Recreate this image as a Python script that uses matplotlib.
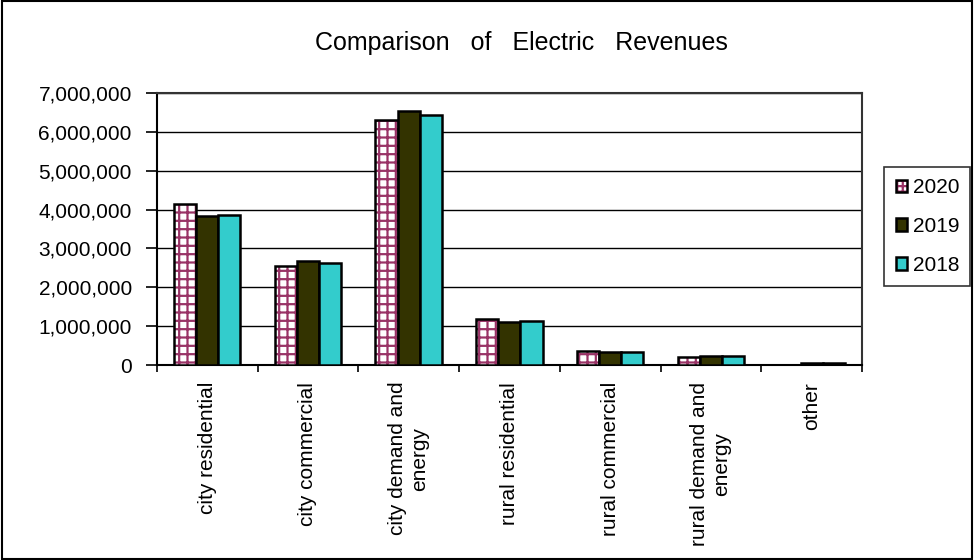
import matplotlib.pyplot as plt
import matplotlib.ticker as mticker
from matplotlib.patches import Patch
from matplotlib.legend_handler import HandlerTuple
import numpy as np

plt.rcParams['font.family'] = ['Liberation Sans', 'DejaVu Sans']
plt.rcParams['hatch.linewidth'] = 1.6

categories = ["city residential", "city commercial", "city demand and\nenergy",
              "rural residential", "rural commercial", "rural demand and\nenergy", "other"]
years = ["2020", "2019", "2018"]
rev_2020 = [4150000, 2560000, 6300000, 1180000, 360000, 200000, 0]
rev_2019 = [3830000, 2670000, 6540000, 1110000, 350000, 230000, 50000]
rev_2018 = [3860000, 2620000, 6430000, 1140000, 350000, 230000, 50000]

fig = plt.figure(figsize=(9.74, 5.6), dpi=100)
ax = fig.add_axes([0.161, 0.348, 0.724, 0.486])

x = np.arange(len(categories))
w = 0.22
ax.bar(x - w, rev_2020, w, color='white', edgecolor='#993366', hatch='++', lw=0, zorder=3)
ax.bar(x - w, rev_2020, w, color='none', edgecolor='black', lw=1.8, zorder=4, label='2020')
ax.bar(x, rev_2019, w, color='#333300', edgecolor='black', lw=1.8, zorder=4, label='2019')
ax.bar(x + w, rev_2018, w, color='#33CCCC', edgecolor='black', lw=1.8, zorder=4, label='2018')

ax.set_xlim(-0.5, len(categories) - 0.5)
ax.set_ylim(0, 7000000)
ax.yaxis.set_major_locator(mticker.MultipleLocator(1000000))
ax.yaxis.set_major_formatter(mticker.FuncFormatter(lambda v, p: f"{int(v):,}"))
ax.grid(axis='y', color='black', lw=1, zorder=1)

# category boundaries as ticks, names centred under each group
ax.set_xticks(np.arange(len(categories) + 1) - 0.5)
ax.set_xticklabels([])
ax.set_xticks(x, minor=True)
ax.set_xticklabels(categories, minor=True, rotation=90, fontsize=15,
                   va='top', ha='center', multialignment='center')
ax.tick_params(axis='x', which='minor', length=0, pad=12)
ax.tick_params(axis='x', which='major', length=5, width=1.2)
ax.tick_params(axis='y', length=8, width=1.2, labelsize=15, pad=10)
for s in ax.spines.values():
    s.set_linewidth(1.5)
    s.set_color('#333333')
ax.spines['left'].set_color('black')
ax.spines['bottom'].set_color('black')

fig.text(0.535, 0.923, "Comparison   of   Electric   Revenues", fontsize=18,
         ha='center', va='center')

handles, labels = ax.get_legend_handles_labels()
h2020 = Patch(facecolor='white', edgecolor='#993366', hatch='+++', lw=0)
leg = fig.legend([(h2020, handles[0]), handles[1], handles[2]], years,
                 handler_map={tuple: HandlerTuple(ndivide=1)},
                 loc='upper left', bbox_to_anchor=(0.908, 0.702), fontsize=15,
                 frameon=True, fancybox=False, edgecolor='black', handlelength=0.55,
                 handleheight=0.55, handletextpad=0.25, labelspacing=0.95,
                 borderpad=0.55, borderaxespad=0)
leg.get_frame().set_linewidth(1.2)

fig.patches.append(plt.Rectangle((0.002, 0.002), 0.996, 0.996, transform=fig.transFigure,
                                 fill=False, edgecolor='black', lw=1.5))

fig.savefig("out.png", dpi=100)
